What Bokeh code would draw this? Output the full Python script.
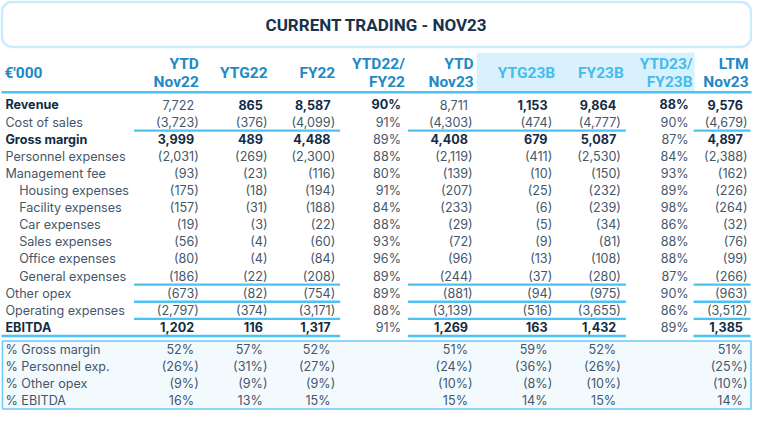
from bokeh.plotting import figure
from bokeh.models import ColumnDataSource, Range1d, BoxAnnotation
from bokeh.embed import file_html
from bokeh.resources import INLINE
from bokeh.core.properties import value

# ---------------- data ----------------
title_text = "CURRENT TRADING - NOV23"
unit_label = "€'000"
col_headers = [["YTD", "Nov22"], ["YTG22"], ["FY22"], ["YTD22/", "FY22"], ["YTD", "Nov23"],
               ["YTG23B"], ["FY23B"], ["YTD23/", "FY23B"], ["LTM", "Nov23"]]
row_labels = ["Revenue", "Cost of sales", "Gross margin", "Personnel expenses", "Management fee",
              "Housing expenses", "Facility expenses", "Car expenses", "Sales expenses",
              "Office expenses", "General expenses", "Other opex", "Operating expenses", "EBITDA"]
ytd_nov22 = [7722, -3723, 3999, -2031, -93, -175, -157, -19, -56, -80, -186, -673, -2797, 1202]
ytg22 = [865, -376, 489, -269, -23, -18, -31, -3, -4, -4, -22, -82, -374, 116]
fy22 = [8587, -4099, 4488, -2300, -116, -194, -188, -22, -60, -84, -208, -754, -3171, 1317]
ytd22_fy22 = [90, 91, 89, 88, 80, 91, 84, 88, 93, 96, 89, 89, 88, 91]
ytd_nov23 = [8711, -4303, 4408, -2119, -139, -207, -233, -29, -72, -96, -244, -881, -3139, 1269]
ytg23b = [1153, -474, 679, -411, -10, -25, -6, -5, -9, -13, -37, -94, -516, 163]
fy23b = [9864, -4777, 5087, -2530, -150, -232, -239, -34, -81, -108, -280, -975, -3655, 1432]
ytd23_fy23b = [88, 90, 87, 84, 93, 89, 98, 86, 88, 88, 87, 90, 86, 89]
ltm_nov23 = [9576, -4679, 4897, -2388, -162, -226, -264, -32, -76, -99, -266, -963, -3512, 1385]

ratio_labels = ["% Gross margin", "% Personnel exp.", "% Other opex", "% EBITDA"]
r_ytd_nov22 = [52, -26, -9, 16]
r_ytg22 = [57, -31, -9, 13]
r_fy22 = [52, -27, -9, 15]
r_ytd_nov23 = [51, -24, -10, 15]
r_ytg23b = [59, -36, -8, 14]
r_fy23b = [52, -26, -10, 15]
r_ltm_nov23 = [51, -25, -10, 14]

# ---------------- layout / style ----------------
columns = [ytd_nov22, ytg22, fy22, ytd22_fy22, ytd_nov23, ytg23b, fy23b, ytd23_fy23b, ltm_nov23]
pct_cols = {3, 7}
ratio_cols = {0: r_ytd_nov22, 1: r_ytg22, 2: r_fy22, 4: r_ytd_nov23, 5: r_ytg23b, 6: r_fy23b, 8: r_ltm_nov23}
col_right = [203, 273, 342, 409, 482, 563, 633, 702, 762]
head_right = [203, 273, 342, 413, 483, 566, 636, 706, 763]
highlight_cols = {5, 6, 7}
indented = {"Housing expenses", "Facility expenses", "Car expenses", "Sales expenses",
            "Office expenses", "General expenses"}
bold_rows = {"Revenue", "Gross margin", "EBITDA"}

PAREN = 4.8
ROW0, STEP = 109.0, 17.7
RROW0 = 362.0

C_TITLE = "#17324d"
C_HEAD = "#2289c4"
C_HEAD_HI = "#45bcef"
C_HI_BG = "#d8f1fc"
C_LINE = "#4cc2f4"
C_TXT = "#44576a"
C_BOLD = "#132c45"
C_BOX_FILL = "#f3fafe"
C_BOX_LINE = "#6ccaf5"

BODY_FONT = "Inter"
HEAD_FONT = "Roboto"
BODY_SIZE = 12.6
HEAD_SIZE = 15.5

p = figure(width=752, height=410, x_range=Range1d(1, 767), y_range=Range1d(425, 1),
           output_backend="svg", toolbar_location=None, min_border=0)
p.axis.visible = False
p.grid.visible = False
p.outline_line_color = None
p.background_fill_color = "white"
p.border_fill_color = "white"

# title box
p.add_layout(BoxAnnotation(left=2.5, right=765.5, top=2.5, bottom=49, border_radius=10,
                           fill_color="white", fill_alpha=1, line_color=C_LINE, line_width=2.5,
                           level="underlay"))
# highlight band behind budget headers
p.quad(left=[486], right=[708], top=[55], bottom=[95], fill_color=C_HI_BG, line_color=None,
       level="underlay")
# ratio box
p.quad(left=[3], right=[765.5], top=[353], bottom=[423.5], fill_color=C_BOX_FILL,
       line_color=C_BOX_LINE, line_width=1.5, level="underlay")

groups = {}


def add_text(x, y, txt, align, color, bold, size, font):
    key = (align, color, bold, size, font)
    g = groups.setdefault(key, {"x": [], "y": [], "text": []})
    g["x"].append(x)
    g["y"].append(y)
    g["text"].append(txt)


def fmt_num(v):
    return "({:,})".format(-v) if v < 0 else "{:,}".format(v)


def fmt_pct(v):
    return "({}%)".format(-v) if v < 0 else "{}%".format(v)


add_text(384, 26.5, title_text, "center", C_TITLE, True, 17, HEAD_FONT)
add_text(5, 76, unit_label, "left", C_HEAD, True, HEAD_SIZE, HEAD_FONT)
for j, hdr in enumerate(col_headers):
    col = C_HEAD_HI if j in highlight_cols else C_HEAD
    if len(hdr) == 1:
        add_text(head_right[j], 76, hdr[0], "right", col, True, HEAD_SIZE, HEAD_FONT)
    else:
        add_text(head_right[j], 67, hdr[0], "right", col, True, HEAD_SIZE, HEAD_FONT)
        add_text(head_right[j], 85, hdr[1], "right", col, True, HEAD_SIZE, HEAD_FONT)

for i, lab in enumerate(row_labels):
    y = ROW0 + STEP * i
    b = lab in bold_rows
    lx = 20 if lab in indented else 6
    add_text(lx, y, lab, "left", C_BOLD if b else C_TXT, b, BODY_SIZE, BODY_FONT)
    for j, colvals in enumerate(columns):
        v = colvals[i]
        if j in pct_cols:
            cb = lab == "Revenue"
            add_text(col_right[j], y, fmt_pct(v), "right", C_BOLD if cb else C_TXT, cb, BODY_SIZE, BODY_FONT)
        else:
            cb = b and not (lab == "Revenue" and j in (0, 4))
            x = col_right[j] if v < 0 else col_right[j] - PAREN
            add_text(x, y, fmt_num(v), "right", C_BOLD if cb else C_TXT, cb, BODY_SIZE, BODY_FONT)

for i, lab in enumerate(ratio_labels):
    y = RROW0 + STEP * i
    add_text(6, y, lab, "left", C_TXT, False, BODY_SIZE, BODY_FONT)
    for j, colvals in ratio_cols.items():
        v = colvals[i]
        x = col_right[j] if v < 0 else col_right[j] - PAREN
        add_text(x, y, fmt_pct(v), "right", C_TXT, False, BODY_SIZE, BODY_FONT)

for (align, color, bold, size, font), g in groups.items():
    p.text(x="x", y="y", text="text", source=ColumnDataSource(g), text_align=align,
           text_baseline="middle", text_color=color,
           text_font_style="bold" if bold else "normal",
           text_font_size="{}px".format(size), text_font=value(font))

# rules
seg_x0, seg_x1, seg_y = [], [], []
p.segment(x0=[2], x1=[766], y0=[96], y1=[96], line_color=C_LINE, line_width=2.5)
spans = [(137, 347), (416, 638), (707, 765)]
rule_after = [1, 10, 11, 12, 13]
for r in rule_after:
    y = ROW0 + STEP * r + STEP / 2
    for k, (a, bnd) in enumerate(spans):
        if r == 13 and k == 0:
            a = 2
        seg_x0.append(a)
        seg_x1.append(bnd)
        seg_y.append(y)
p.segment(x0=seg_x0, x1=seg_x1, y0=seg_y, y1=seg_y, line_color=C_LINE, line_width=2.3)

open("out.html", "w").write(file_html(p, INLINE))
